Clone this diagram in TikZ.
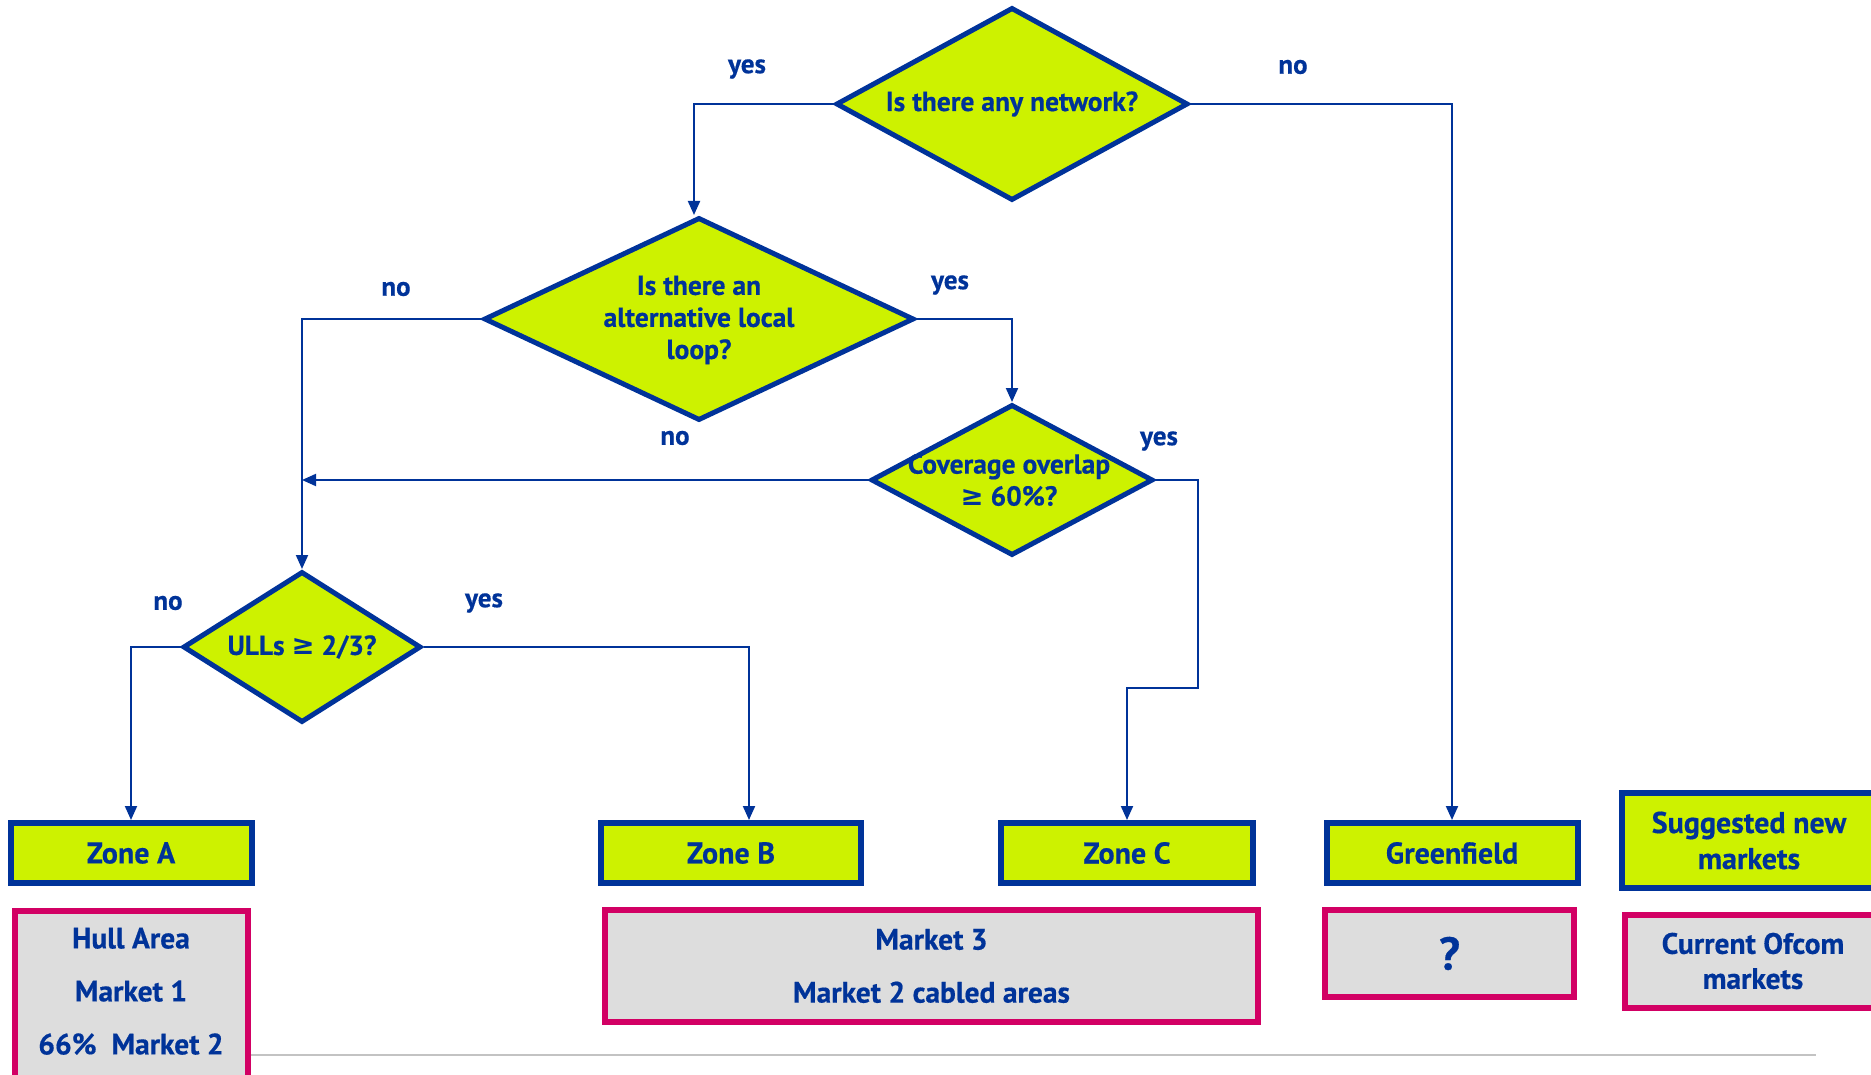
\documentclass[tikz,border=0pt]{standalone}
\usepackage{fontspec}
\setmainfont{PT Sans}[BoldFeatures={FakeBold=0.5}]
\newfontfamily\symf{DejaVu Sans}[BoldFont={DejaVu Sans Bold}]
\usetikzlibrary{shapes.geometric,arrows.meta,calc}
\definecolor{lime}{RGB}{205,242,0}
\definecolor{oblue}{RGB}{0,51,153}
\definecolor{omag}{RGB}{210,0,100}
\definecolor{ogray}{RGB}{221,221,221}
\definecolor{rulegray}{RGB}{195,195,195}
\newcommand{\geqsym}{{\symf\bfseries ≥}}
\begin{document}
\begin{tikzpicture}[x=1pt,y=-1pt,
 dia/.style={diamond, draw=oblue, fill=lime, line width=5pt, inner sep=0pt},
 qtext/.style={text=oblue, font=\fontsize{27.5}{32}\selectfont\bfseries, align=center, inner sep=0pt},
 zone/.style={rectangle, draw=oblue, fill=lime, line width=6pt, text=oblue, font=\fontsize{30}{36}\selectfont\bfseries, align=center, inner sep=0pt},
 mkt/.style={rectangle, draw=omag, fill=ogray, line width=6pt, text=oblue, font=\fontsize{29.5}{53}\selectfont\bfseries, align=center, inner sep=0pt},
 conn/.style={draw=oblue, line width=2pt},
 arr/.style={conn, -{Triangle[length=14pt,width=12pt]}},
 lbl/.style={text=oblue, font=\fontsize{27}{30}\selectfont\bfseries, inner sep=0pt}]
\useasboundingbox (0,0) rectangle (1871,1075);
\fill[white] (0,0) rectangle (1871,1075);

% footer rule
\coordinate (r1) at (249,1055);
\coordinate (r2) at (1816,1055);
\draw[rulegray, line width=2pt] (r1) -- (r2);

% decisions
\node[dia, minimum width=352pt, minimum height=193pt] (d1) at (1012,104) {};
\node[qtext] (t1) at (1012,104) {Is there any network?};
\node[dia, minimum width=430pt, minimum height=203pt] (d2) at (699,319) {};
\node[qtext] (t2) at (699,320) {Is there an\\alternative local\\loop?};
\node[dia, minimum width=282pt, minimum height=151pt] (d3) at (1012,480) {};
\node[qtext] (t3) at (1009,480) {Coverage overlap\\\geqsym{} 60\%?};
\node[dia, minimum width=238pt, minimum height=151pt] (d4) at (302,647) {};
\node[qtext] (t4) at (302,647) {ULLs \geqsym{} 2/3?};

% zones
\node[zone, minimum width=241pt, minimum height=60pt] (za) at (131,853) {Zone A};
\node[zone, minimum width=260pt, minimum height=60pt] (zb) at (731,853) {Zone B};
\node[zone, minimum width=252pt, minimum height=60pt] (zc) at (1127,853) {Zone C};
\node[zone, minimum width=251pt, minimum height=60pt] (gf) at (1452,853) {Greenfield};
\node[zone, minimum width=254pt, minimum height=95pt] (sn) at (1749,840.5) {Suggested new\\markets};

% markets
\node[mkt, minimum width=233pt, minimum height=174pt] (hull) at (131,998) {Hull Area\\Market 1\\66\%~~Market 2\rule[-14pt]{0pt}{0pt}};
\node[mkt, minimum width=653pt, minimum height=112pt] (m3) at (931.5,966) {Market 3\\Market 2 cabled areas};
\node[mkt, minimum width=249pt, minimum height=87pt, font=\fontsize{46}{50}\selectfont\bfseries] (qm) at (1449.5,953.5) {?};
\node[mkt, minimum width=256pt, minimum height=93pt, font=\fontsize{29.5}{35}\selectfont\bfseries] (co) at (1753,961) {Current Ofcom\\markets};

% connectors
\coordinate (j) at (302,480);
\coordinate (c1) at (1198,480);
\coordinate (c2) at (1198,688);
\draw[arr] (d1.west) -| ([xshift=-5pt]d2.north);
\draw[arr] (d1.east) -| (gf.north);
\draw[arr] (d2.west) -| (d4.north);
\draw[arr] (d2.east) -| (d3.north);
\draw[arr] (d3.west) -- (j);
\draw[arr] (d3.east) -- (c1) -- (c2) -| (zc.north);
\draw[arr] (d4.west) -| (za.north);
\draw[arr] (d4.east) -| ([xshift=18pt]zb.north);

% labels
\node[lbl] (l1) at (747,69) {yes};
\node[lbl] (l2) at (1293,67) {no};
\node[lbl] (l3) at (396,289) {no};
\node[lbl] (l4) at (950,285) {yes};
\node[lbl] (l5) at (675,438) {no};
\node[lbl] (l6) at (1159,441) {yes};
\node[lbl] (l7) at (168,603) {no};
\node[lbl] (l8) at (484,603) {yes};
\end{tikzpicture}
\end{document}
